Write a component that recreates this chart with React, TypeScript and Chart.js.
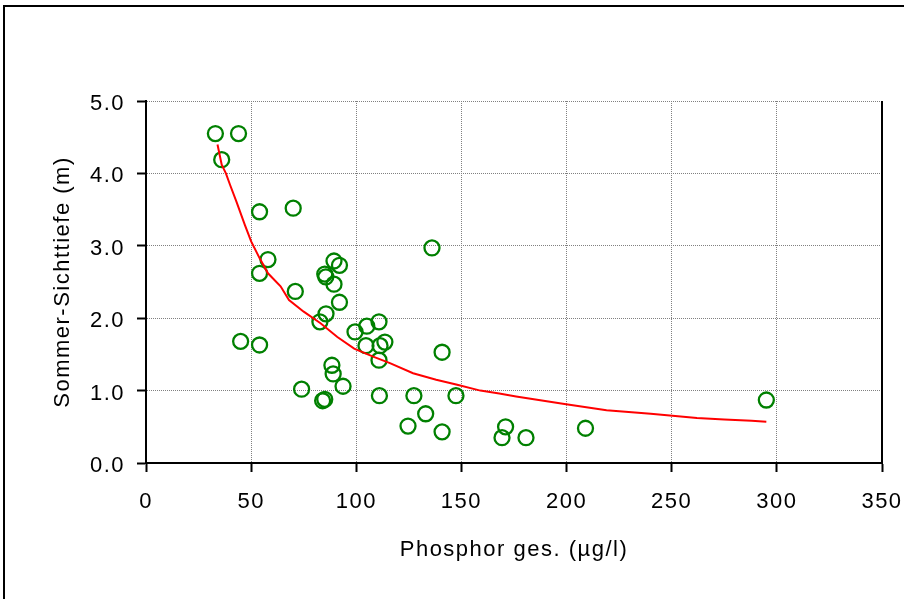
import React, { useEffect, useRef } from "react";
import { Chart, registerables } from "chart.js";

Chart.register(...registerables);

// Measured points: total phosphorus (µg/l) vs. summer Secchi depth (m)
const phosphor = [33, 44, 36, 54, 70, 58, 54, 71, 45, 54, 74, 89.4, 85, 85.5, 92, 89.4, 92, 85.6, 82.7, 88.4, 89, 93.7, 84, 85, 99.4, 105, 110.8, 104.6, 111.3, 113.6, 110.8, 111, 136, 140.8, 127.4, 147.4, 133, 124.6, 140.8, 171, 169.3, 180.7, 209, 295];
const sichttiefe = [4.55, 4.55, 4.19, 3.47, 3.52, 2.81, 2.62, 2.37, 1.68, 1.63, 1.02, 2.79, 2.61, 2.57, 2.73, 2.47, 2.22, 2.06, 1.95, 1.35, 1.23, 1.06, 0.86, 0.88, 1.81, 1.89, 1.95, 1.62, 1.62, 1.67, 1.42, 0.93, 2.97, 1.53, 0.93, 0.93, 0.68, 0.51, 0.43, 0.5, 0.35, 0.35, 0.48, 0.87];

// Fitted curve (red line)
const curveX = [34, 36, 38, 40, 43, 47, 50, 54, 58, 64, 68, 75, 83, 91, 99, 108, 116, 127, 138, 148, 159, 168, 176, 199, 219, 240, 262, 275, 288, 295];
const curveY = [4.4, 4.12, 4.0, 3.84, 3.61, 3.29, 3.06, 2.83, 2.62, 2.44, 2.25, 2.09, 1.93, 1.74, 1.58, 1.47, 1.38, 1.24, 1.15, 1.08, 1.0, 0.96, 0.92, 0.815, 0.73, 0.68, 0.62, 0.6, 0.585, 0.57];

const xMin = 0;
const xMax = 350;
const xStep = 50;
const yMin = 0;
const yMax = 5;
const yStep = 1;

const xTitle = "Phosphor ges. (µg/l)";
const yTitle = "Sommer-Sichttiefe (m)";

const FONT = "'Liberation Sans', Arial, sans-serif";
const SPACING = "1.5px";

const framePlugin = {
  id: "frame",
  beforeUpdate(chart: any) {
    chart.ctx.letterSpacing = SPACING;
  },
  beforeDraw(chart: any) {
    const ctx = chart.ctx;
    ctx.save();
    ctx.fillStyle = "#ffffff";
    ctx.fillRect(0, 0, chart.width, chart.height);
    ctx.restore();
    ctx.letterSpacing = SPACING;
  },
  afterDraw(chart: any) {
    const { ctx, chartArea } = chart;
    ctx.save();
    ctx.strokeStyle = "#000000";
    ctx.lineWidth = 2;
    ctx.beginPath();
    ctx.moveTo(chartArea.right, chartArea.top);
    ctx.lineTo(chartArea.right, chartArea.bottom);
    ctx.stroke();
    ctx.beginPath();
    ctx.moveTo(4, chart.height);
    ctx.lineTo(4, 6);
    ctx.lineTo(chart.width, 6);
    ctx.stroke();
    ctx.restore();
  },
};

export default function App() {
  const canvasRef = useRef<HTMLCanvasElement | null>(null);

  useEffect(() => {
    if (!canvasRef.current) return;
    const pts = phosphor.map((x, i) => ({ x, y: sichttiefe[i] }));
    const curve = curveX.map((x, i) => ({ x, y: curveY[i] }));

    Chart.defaults.color = "#000000";
    Chart.defaults.font.family = FONT;

    const chart = new Chart(canvasRef.current, {
      type: "scatter",
      data: {
        datasets: [
          {
            label: "Kurve",
            data: curve,
            showLine: true,
            borderColor: "#ff0000",
            backgroundColor: "#ff0000",
            borderWidth: 2,
            pointRadius: 0,
            tension: 0,
          },
          {
            label: "Messwerte",
            data: pts,
            showLine: false,
            pointRadius: 7.5,
            pointBorderWidth: 2.3,
            borderColor: "#008000",
            backgroundColor: "rgba(0,0,0,0)",
          },
        ],
      },
      options: {
        animation: false,
        responsive: true,
        maintainAspectRatio: false,
        layout: { padding: { left: 0, top: 101, right: 22, bottom: 0 } },
        plugins: {
          legend: { display: false },
          tooltip: { enabled: false },
        },
        scales: {
          x: {
            type: "linear",
            min: xMin,
            max: xMax,
            afterFit(scale: any) {
              scale.height = 136;
              scale.paddingLeft = 0;
              scale.paddingRight = 0;
            },
            ticks: {
              stepSize: xStep,
              autoSkip: false,
              maxRotation: 0,
              padding: 17,
              font: { size: 22, family: FONT },
              color: "#000",
            },
            grid: {
              color: "#808080",
              lineWidth: 1,
              tickColor: "#000",
              tickWidth: 2,
              tickLength: 9,
              drawTicks: true,
            },
            border: { display: true, color: "#000", width: 2, dash: [1, 1] },
            title: {
              display: true,
              text: xTitle,
              font: { size: 22, family: FONT },
              color: "#000",
              padding: { top: 0, bottom: 36 },
            },
          },
          y: {
            type: "linear",
            min: yMin,
            max: yMax,
            afterFit(scale: any) {
              scale.width = 146;
              scale.paddingTop = 0;
              scale.paddingBottom = 0;
            },
            ticks: {
              stepSize: yStep,
              autoSkip: false,
              padding: 12,
              labelOffset: 3,
              font: { size: 22, family: FONT },
              color: "#000",
              callback: (v: any) => Number(v).toFixed(1),
            },
            grid: {
              color: "#808080",
              lineWidth: 1,
              tickColor: "#000",
              tickWidth: 2,
              tickLength: 9,
              drawTicks: true,
            },
            border: { display: true, color: "#000", width: 2, dash: [1, 1] },
            title: {
              display: true,
              text: yTitle,
              font: { size: 22, family: FONT },
              color: "#000",
              padding: { top: 50, bottom: 0 },
            },
          },
        },
      },
      plugins: [framePlugin],
    });

    return () => chart.destroy();
  }, []);

  return (
    <div style={{ position: "fixed", left: 0, top: 0, width: 904, height: 599, background: "#fff" }}>
      <canvas ref={canvasRef} />
    </div>
  );
}
